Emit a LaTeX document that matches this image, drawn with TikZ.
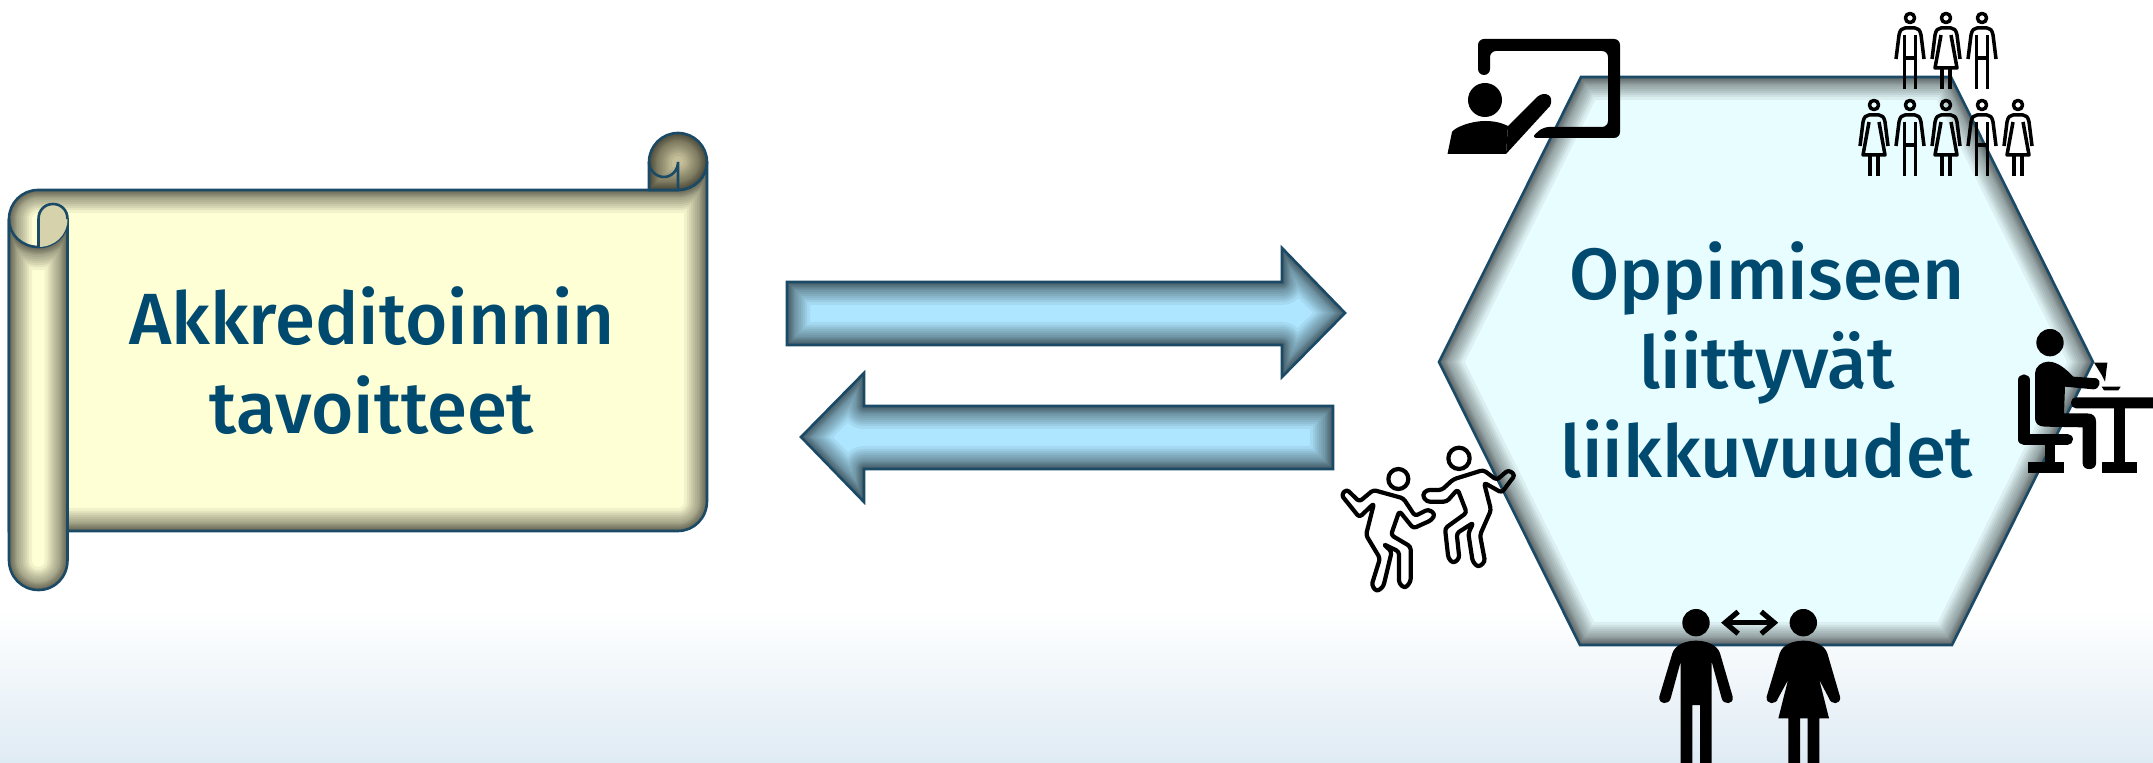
\documentclass[tikz,border=0pt]{standalone}
\usepackage{fontspec}
\usepackage{xcolor}
\usetikzlibrary{arrows.meta}
\setmainfont{Fira Sans Medium}
\definecolor{edgeB}{HTML}{1B4A66}
\definecolor{titleB}{HTML}{004A70}
\definecolor{paperY}{HTML}{FFFFD6}
\definecolor{paperYdark}{HTML}{D5D2AC}
\definecolor{curlY}{HTML}{C4BF98}
\definecolor{arrowB}{HTML}{AEE6FF}
\definecolor{hexB}{HTML}{E8FDFF}
\definecolor{floorB}{HTML}{DFEBF4}
% inner shadow: fill colour, path
\newcommand{\glowfill}[2]{%
  \fill[#1] #2;
  \begin{scope}
    \clip #2;
    \foreach \w in {2,3,4,5,6,7,8,10,12,14,16,18,20,23}{
      \draw[black, opacity=0.055, line width=\w pt, line join=round] #2;
    }
  \end{scope}
  \draw[edgeB, line width=1.3pt, line join=miter] #2;
}
\tikzset{
  titletext/.style={text=titleB, font=\fontsize{36.3}{44.5}\selectfont, align=center},
  crowdline/.style={draw=black, line width=1.75pt, line cap=butt, line join=round},
  iconline/.style={draw=black, line width=2.1pt, line join=round, rounded corners=1.5pt},
  zoomed/.style={x=0.16667pt, y=-0.16667pt},
  crowdman/.pic={
    \draw[crowdline] (0,0) circle (4.6);
    \draw[crowdline] (-14,41) -- (-11,17) .. controls (-10,12) and (-8,10) .. (-5,10) -- (5,10)
      .. controls (8,10) and (10,12) .. (11,17) -- (14,41);
    \draw[crowdline] (-5.5,17) -- (-5.5,71) (5.5,17) -- (5.5,71) (-5.5,40) -- (5.5,40);
  },
  crowdwoman/.pic={
    \draw[crowdline] (0,0) circle (4.6);
    \draw[crowdline] (-14,41) -- (-11,17) .. controls (-10,12) and (-8,10) .. (-5,10) -- (5,10)
      .. controls (8,10) and (10,12) .. (11,17) -- (14,41);
    \draw[crowdline] (-5,17) -- (-11,50) -- (11,50) -- (5,17);
    \draw[crowdline] (-4,50) -- (-4,71) (4,50) -- (4,71);
  },
}
\begin{document}
\begin{tikzpicture}[x=0.5pt, y=-0.5pt]
  \useasboundingbox (0,0) rectangle (2153,763);
  \fill[top color=white, bottom color=floorB] (0,610) rectangle (2153,763);

  % scroll
  \glowfill{paperY}{(9,219) .. controls (9,203) and (22,190) .. (38,190) -- (678,190)
    .. controls (694,190) and (707,177) .. (707,162) -- (707,501)
    .. controls (707,518) and (694,531) .. (678,531) -- (9,531) -- cycle}
  \glowfill{curlY}{(649,190) -- (649,162) .. controls (649,146) and (662,133) .. (678,133)
    .. controls (694,133) and (707,146) .. (707,162)
    .. controls (707,177) and (694,190) .. (678,190) -- cycle}
  \draw[edgeB, line width=1.3pt] (649,162) .. controls (649,170) and (656,177) .. (664,177)
    .. controls (672,177) and (678,170) .. (678,162) -- (678,190);
  \glowfill{paperY}{(9,219) .. controls (9,235) and (22,247) .. (38.5,247)
    .. controls (55,247) and (67.5,235) .. (67.5,219) -- (67.5,560)
    .. controls (67.5,577) and (55,590) .. (38.5,590) .. controls (22,590) and (9,577) .. (9,560) -- cycle}
  \fill[paperYdark] (38.5,247) -- (38.5,219) .. controls (38.5,210) and (45,204) .. (53,204)
    .. controls (61,204) and (67.5,210) .. (67.5,219) .. controls (67.5,235) and (55,247) .. (38.5,247);
  \draw[edgeB, line width=1.3pt] (38.5,247) -- (38.5,219) .. controls (38.5,210) and (45,204) .. (53,204)
    .. controls (61,204) and (67.5,210) .. (67.5,219);
  \node[titletext] (goals) at (372,361) {Akkreditoinnin\\tavoitteet};

  % arrows
  \glowfill{arrowB}{(787,282) -- (1282,282) -- (1282,248) -- (1345,313) -- (1282,377) -- (1282,345) -- (787,345) -- cycle}
  \glowfill{arrowB}{(1333,406) -- (864,406) -- (864,373) -- (801,437) -- (864,502) -- (864,469) -- (1333,469) -- cycle}

  % hexagon
  \glowfill{hexB}{(1581,77) -- (1951,77) -- (2093,362) -- (1952,645) -- (1580,645) -- (1439,362) -- cycle}
  \node[titletext] (mobility) at (1767,360) {Oppimiseen\\liittyvät\\liikkuvuudet};

  % teacher
  \fill[black, rounded corners=3pt] (1478,75) -- (1478,39) -- (1620,39) -- (1620,138) -- (1531,138) -- (1543,127)
    -- (1608,127) -- (1608,51) -- (1490,51) -- (1490,75) -- cycle;
  \fill[black] (1485,100) circle (17);
  \fill[black] (1447.5,154) -- (1452,132) .. controls (1454,128) and (1470,121) .. (1485,121)
    .. controls (1495,121) and (1502,123) .. (1508,126) -- (1506,154) -- cycle;
  \fill[black] (1508,126) -- (1537,97) .. controls (1545,90) and (1555,96) .. (1550,106) -- (1506,154) -- cycle;

  % crowd
  \foreach \x/\kind in {1910/crowdman,1946/crowdwoman,1982/crowdman}{
    \pic at (\x,18) {\kind};
  }
  \foreach \x/\kind in {1874/crowdwoman,1910/crowdman,1946/crowdwoman,1982/crowdman,2018/crowdwoman}{
    \pic at (\x,105) {\kind};
  }

  % dancers
  \begin{scope}[shift={(1320,430)}, zoomed]
    \draw[iconline] (235,147) circle (30);
    \draw[iconline] (64,195) -- (80,178) -- (118,215) -- (160,180) -- (250,205) -- (285,258) -- (325,238)
      -- (345,252) -- (335,270) -- (280,295) -- (238,243) -- (213,315) -- (272,350) -- (272,455)
      -- (255,475) -- (237,460) -- (237,365) -- (190,342) -- (215,365) -- (190,470) -- (170,485) -- (155,465)
      -- (180,385) -- (138,315) -- (162,220) -- (118,262) -- cycle;
    \draw[iconline] (417,85) circle (32);
    \draw[iconline] (307,195) -- (320,180) -- (365,180) -- (400,148) -- (490,120) -- (530,150) -- (565,120)
      -- (585,135) -- (545,188) -- (492,158) -- (513,240) -- (480,315) -- (495,395) -- (475,412) -- (458,395)
      -- (445,310) -- (460,278) -- (410,310) -- (418,385) -- (400,400) -- (385,385) -- (375,295) -- (440,248)
      -- (413,178) -- (380,215) -- (320,215) -- cycle;
  \end{scope}

  % two people
  \node[circle, fill=black, inner sep=0pt, minimum size=13.7pt] (manhead) at (1696,622.7) {};
  \node[circle, fill=black, inner sep=0pt, minimum size=13.7pt] (womanhead) at (1803.3,622.7) {};
  \draw[{Straight Barb[length=6.5pt, width=11pt]}-{Straight Barb[length=6.5pt, width=11pt]},
    line width=2.6pt, shorten <=5.5pt, shorten >=5.5pt] (manhead) -- (womanhead);
  \begin{scope}[shift={(1640,590)}, zoomed]
    \fill[black] (168,152) .. controls (200,152) and (232,165) .. (240,190) -- (278,320)
      .. controls (282,345) and (250,345) .. (245,325) -- (215,215) -- (215,519) -- (180,519) -- (180,345)
      -- (157,345) -- (157,519) -- (122,519) -- (122,215) -- (92,325) .. controls (87,345) and (55,345) .. (58,320)
      -- (97,190) .. controls (105,165) and (136,152) .. (168,152) -- cycle;
    \fill[black] (490,152) .. controls (522,152) and (554,165) .. (562,190) -- (600,320)
      .. controls (604,345) and (572,345) .. (567,325) -- (538,270) -- (567,385) -- (538,385) -- (538,519) -- (503,519)
      -- (503,385) -- (480,385) -- (480,519) -- (445,519) -- (445,385) -- (415,385) -- (444,270)
      -- (414,325) .. controls (409,345) and (377,345) .. (380,320)
      -- (419,190) .. controls (427,165) and (458,152) .. (490,152) -- cycle;
  \end{scope}

  % person at desk
  \begin{scope}[shift={(1990,310)}, zoomed]
    \fill[black] (180,98) circle (41);
    \fill[black] (175,155) .. controls (205,155) and (230,180) .. (250,200) -- (320,205)
      .. controls (335,210) and (330,238) .. (310,238) -- (225,230) -- (222,310) -- (290,310)
      .. controls (310,310) and (318,320) .. (318,335) -- (318,460) .. controls (318,483) and (278,483) .. (278,460)
      -- (278,352) -- (165,350) .. controls (145,350) and (135,340) .. (135,325) -- (135,190)
      .. controls (135,170) and (155,155) .. (175,155) -- cycle;
    \draw[black, line width=5.6pt, line cap=round, line join=round] (102,210) -- (102,388) -- (232,388);
    \fill[black] (165,388) rectangle (195,460);
    \fill[black] (115,456) rectangle (222,488);
    \fill[black, rounded corners=2.5pt] (243,295) -- (243,262) -- (520,262) -- (520,295) -- cycle;
    \fill[black] (372,295) rectangle (405,460);
    \fill[black] (335,456) rectangle (440,488);
    \fill[black] (312,158) -- (352,158) -- (345,215) -- (335,195) -- cycle;
    \fill[black] (335,230) -- (392,230) -- (385,241) -- (342,241) -- cycle;
  \end{scope}
\end{tikzpicture}
\end{document}
